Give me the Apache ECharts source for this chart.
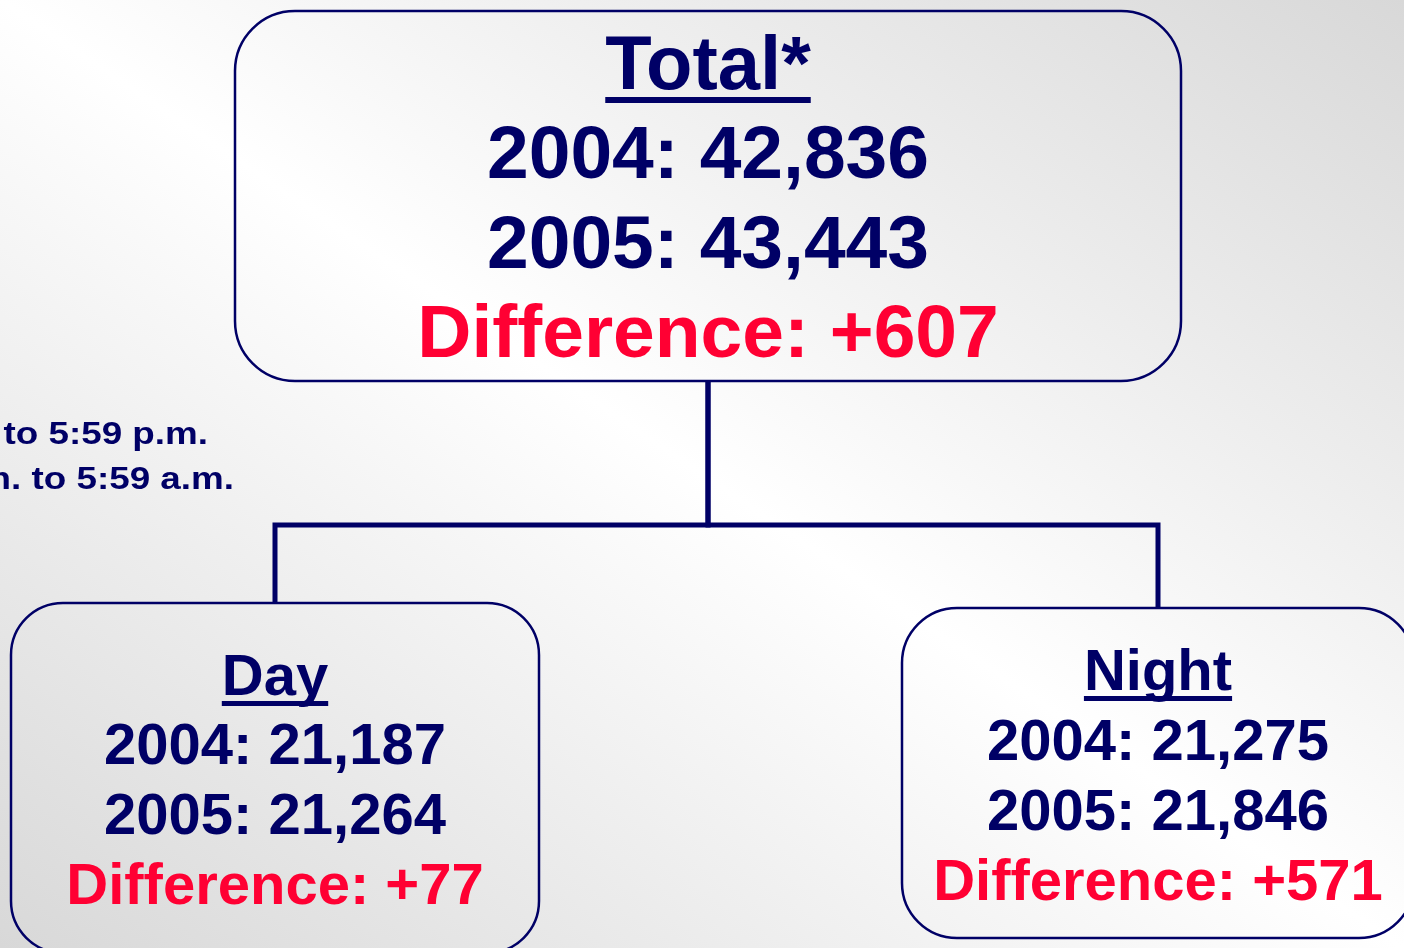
<!DOCTYPE html>
<html lang="en">
<head>
    <meta charset="UTF-8">
    <title>Total / Day / Night</title>
    <script src="https://cdn.jsdelivr.net/npm/echarts@6.0.0/dist/echarts.min.js"></script>
    <style>
        html, body { margin: 0; padding: 0; overflow: hidden; }
        #main { width: 1404px; height: 948px; }
    </style>
</head>
<body>
<div id="main"></div>
<script>
    // data
    var nodeNames = ['Total*', 'Day', 'Night'];
    var values2004 = [42836, 21187, 21275];
    var values2005 = [43443, 21264, 21846];
    var differences = [607, 77, 571];
    var parentOf = [-1, 0, 0];
    var noteLines = ['to 5:59 p.m.', 'm. to 5:59 a.m.'];

    // layout (axis units = pixels)
    var boxes = [
        {x: 235, y: 11, w: 946, h: 370, r: 60, cx: 708, titleSize: 76, textSize: 75, titleBase: 91, firstBase: 180, step: 89.5},
        {x: 11, y: 603, w: 528, h: 350, r: 52, cx: 275, titleSize: 58, textSize: 58, titleBase: 696, firstBase: 765, step: 70},
        {x: 902, y: 608, w: 512, h: 330, r: 55, cx: 1158, titleSize: 58, textSize: 58, titleBase: 691, firstBase: 761, step: 70}
    ];
    var forkY = 525;
    var notePos = [{x: 208, base: 445}, {x: 234, base: 490}];

    var NAVY = '#000066';
    var RED = '#ff0033';
    var FONT = '"Liberation Sans", Arial, sans-serif';

    var measureCtx = document.createElement('canvas').getContext('2d');
    function textWidth(str, size) {
        measureCtx.font = 'bold ' + size + 'px ' + FONT;
        return measureCtx.measureText(str).width;
    }
    function fmt(v) {
        return v.toLocaleString('en-US');
    }
    // canvas draws text with 'middle' baseline, shift from alphabetic baseline
    function midY(base, size) {
        return base - 0.3 * size;
    }

    function textEl(str, x, y, size, color, align) {
        return {
            type: 'text',
            style: {
                text: str, x: x, y: y,
                fill: color,
                fontSize: size, fontWeight: 'bold', fontFamily: FONT,
                align: align || 'center', verticalAlign: 'middle'
            }
        };
    }

    function renderBox(params, api) {
        var i = api.value(0);
        var b = boxes[i];
        var p0 = api.coord([b.x, b.y]);
        var p1 = api.coord([b.x + b.w, b.y + b.h]);
        var cx = api.coord([b.cx, 0])[0];
        var els = [{
            type: 'rect',
            shape: {x: p0[0], y: p0[1], width: p1[0] - p0[0], height: p1[1] - p0[1], r: b.r},
            style: {fill: 'none', stroke: NAVY, lineWidth: 2.5}
        }];

        var tb = api.coord([0, b.titleBase])[1];
        els.push(textEl(nodeNames[i], cx, midY(tb, b.titleSize), b.titleSize, NAVY));
        var uw = textWidth(nodeNames[i], b.titleSize);
        var ut = Math.round(b.titleSize * 0.085);
        els.push({
            type: 'rect',
            shape: {x: cx - uw / 2, y: tb + Math.round(b.titleSize * 0.085), width: uw, height: ut},
            style: {fill: NAVY}
        });

        var rows = [
            {t: '2004: ' + fmt(api.value(1)), c: NAVY},
            {t: '2005: ' + fmt(api.value(2)), c: NAVY},
            {t: 'Difference: +' + fmt(api.value(3)), c: RED}
        ];
        rows.forEach(function (row, k) {
            var base = api.coord([0, b.firstBase + k * b.step])[1];
            els.push(textEl(row.t, cx, midY(base, b.textSize), b.textSize, row.c));
        });
        return {type: 'group', children: els};
    }

    function renderLink(params, api) {
        var c = api.value(0);
        var p = parentOf[c];
        var pb = boxes[p], cb = boxes[c];
        var pts = [
            api.coord([pb.cx, pb.y + pb.h]),
            api.coord([pb.cx, forkY]),
            api.coord([cb.cx, forkY]),
            api.coord([cb.cx, cb.y])
        ];
        return {
            type: 'polyline',
            shape: {points: pts},
            style: {fill: 'none', stroke: NAVY, lineWidth: 5, lineJoin: 'miter', lineCap: 'butt'}
        };
    }

    function renderNote(params, api) {
        var k = api.value(0);
        var pos = api.coord([notePos[k].x, notePos[k].base]);
        var el = textEl(noteLines[k], 0, -0.3 * 32, 32, NAVY, 'right');
        el.x = pos[0];
        el.y = pos[1];
        el.scaleX = 1.15;
        return el;
    }

    var boxData = nodeNames.map(function (n, i) {
        return [i, values2004[i], values2005[i], differences[i]];
    });
    var linkData = parentOf.map(function (p, i) { return [i]; }).filter(function (d) { return parentOf[d[0]] >= 0; });
    var noteData = noteLines.map(function (t, k) { return [k]; });

    var chart = echarts.init(document.getElementById('main'));
    var option = {
        animation: false,
        // grey in the top-right and bottom-left corners, white along the other diagonal
        backgroundColor: new echarts.graphic.LinearGradient(1142, -177, 262, 1125, [
            {offset: 0, color: '#d8d8d8'},
            {offset: 0.5, color: '#ffffff'},
            {offset: 1, color: '#d8d8d8'}
        ], true),
        grid: {left: 0, right: 0, top: 0, bottom: 0},
        xAxis: {type: 'value', min: 0, max: 1404, show: false},
        yAxis: {type: 'value', min: 0, max: 948, inverse: true, show: false},
        series: [
            {type: 'custom', name: 'links', data: linkData, renderItem: renderLink, encode: {x: 0}, silent: true},
            {type: 'custom', name: 'boxes', data: boxData, renderItem: renderBox, encode: {x: 0}, silent: true},
            {type: 'custom', name: 'notes', data: noteData, renderItem: renderNote, encode: {x: 0}, silent: true}
        ]
    };
    chart.setOption(option);
</script>
</body>
</html>
